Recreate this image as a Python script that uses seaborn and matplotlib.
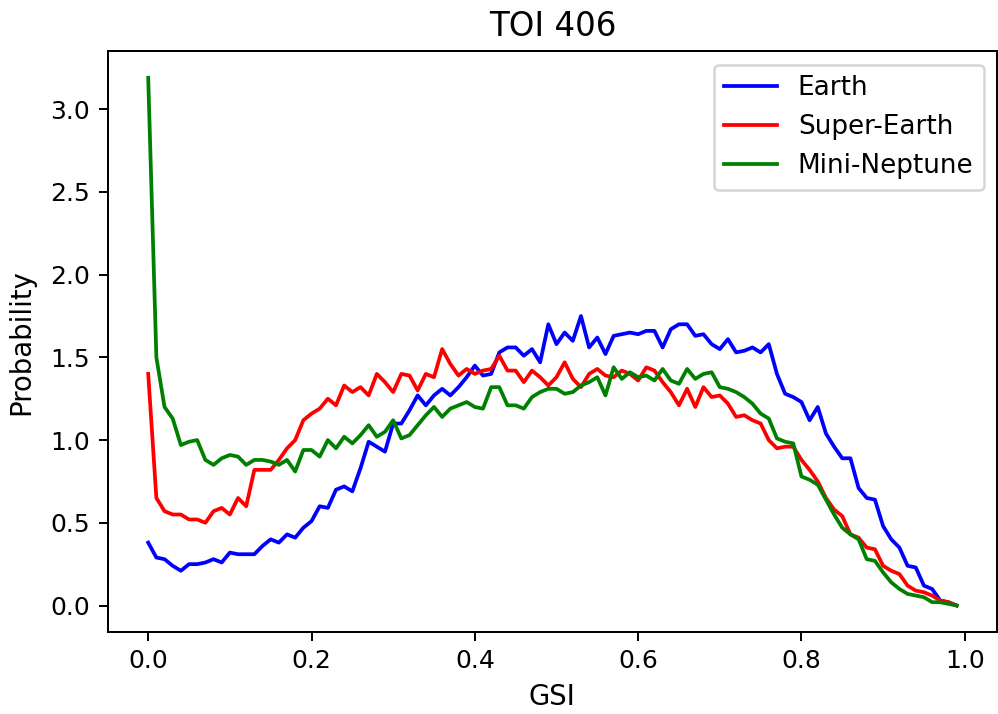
import numpy as np
import pandas as pd
import matplotlib
matplotlib.use("Agg")
import matplotlib.pyplot as plt
import seaborn as sns

gsi = [round(i * 0.01, 2) for i in range(100)]

earth = [0.38, 0.29, 0.28, 0.24, 0.21, 0.25, 0.25, 0.26, 0.28, 0.26,
         0.32, 0.31, 0.31, 0.31, 0.36, 0.40, 0.38, 0.43, 0.41, 0.47,
         0.51, 0.60, 0.59, 0.70, 0.72, 0.69, 0.83, 0.99, 0.96, 0.93,
         1.10, 1.10, 1.18, 1.27, 1.21, 1.27, 1.31, 1.27, 1.32, 1.38,
         1.45, 1.39, 1.40, 1.53, 1.56, 1.56, 1.51, 1.55, 1.47, 1.70,
         1.58, 1.65, 1.60, 1.75, 1.56, 1.62, 1.52, 1.63, 1.64, 1.65,
         1.64, 1.66, 1.66, 1.56, 1.67, 1.70, 1.70, 1.63, 1.64, 1.58,
         1.55, 1.61, 1.53, 1.54, 1.56, 1.53, 1.58, 1.40, 1.28, 1.26,
         1.23, 1.12, 1.20, 1.04, 0.96, 0.89, 0.89, 0.71, 0.65, 0.64,
         0.48, 0.40, 0.35, 0.24, 0.23, 0.12, 0.10, 0.03, 0.02, 0.00]

super_earth = [1.40, 0.65, 0.57, 0.55, 0.55, 0.52, 0.52, 0.50, 0.57, 0.59,
               0.55, 0.65, 0.60, 0.82, 0.82, 0.82, 0.88, 0.95, 1.00, 1.12,
               1.16, 1.19, 1.25, 1.21, 1.33, 1.29, 1.32, 1.27, 1.40, 1.35,
               1.29, 1.40, 1.39, 1.30, 1.40, 1.38, 1.55, 1.46, 1.39, 1.43,
               1.40, 1.42, 1.43, 1.51, 1.42, 1.42, 1.35, 1.42, 1.38, 1.33,
               1.38, 1.47, 1.37, 1.32, 1.40, 1.43, 1.39, 1.38, 1.42, 1.40,
               1.36, 1.44, 1.42, 1.35, 1.29, 1.21, 1.31, 1.20, 1.32, 1.26,
               1.27, 1.22, 1.14, 1.15, 1.12, 1.10, 1.00, 0.95, 0.96, 0.96,
               0.88, 0.82, 0.75, 0.65, 0.58, 0.54, 0.43, 0.41, 0.35, 0.34,
               0.24, 0.21, 0.19, 0.12, 0.09, 0.08, 0.06, 0.03, 0.02, 0.00]

mini_neptune = [3.19, 1.50, 1.20, 1.13, 0.97, 0.99, 1.00, 0.88, 0.85, 0.89,
                0.91, 0.90, 0.85, 0.88, 0.88, 0.87, 0.85, 0.88, 0.81, 0.94,
                0.94, 0.90, 1.00, 0.95, 1.02, 0.98, 1.03, 1.09, 1.02, 1.05,
                1.12, 1.01, 1.03, 1.09, 1.15, 1.20, 1.14, 1.19, 1.21, 1.23,
                1.20, 1.19, 1.32, 1.32, 1.21, 1.21, 1.19, 1.26, 1.29, 1.31,
                1.31, 1.28, 1.29, 1.33, 1.35, 1.38, 1.27, 1.44, 1.37, 1.41,
                1.38, 1.39, 1.36, 1.43, 1.36, 1.34, 1.43, 1.37, 1.40, 1.41,
                1.32, 1.31, 1.29, 1.26, 1.22, 1.16, 1.13, 1.01, 0.99, 0.98,
                0.78, 0.76, 0.73, 0.64, 0.55, 0.47, 0.43, 0.40, 0.28, 0.27,
                0.20, 0.14, 0.10, 0.07, 0.06, 0.05, 0.02, 0.02, 0.01, 0.00]

series_names = ["Earth", "Super-Earth", "Mini-Neptune"]
series_colors = ["blue", "red", "green"]

df = pd.DataFrame({
    "GSI": gsi * 3,
    "Probability": earth + super_earth + mini_neptune,
    "Type": [series_names[0]] * 100 + [series_names[1]] * 100 + [series_names[2]] * 100,
})

DPI = 180
fig, ax = plt.subplots(figsize=(998 / DPI, 714 / DPI), dpi=DPI)
sns.lineplot(data=df, x="GSI", y="Probability", hue="Type",
             palette=dict(zip(series_names, series_colors)),
             linewidth=1.5, ax=ax)
ax.set_title("TOI 406", fontsize=13)
ax.set_xlabel("GSI", fontsize=11, labelpad=4)
ax.set_ylabel("Probability", fontsize=11, labelpad=6)
ax.legend(loc="upper right", fontsize=10.5)
fig.subplots_adjust(left=0.108, right=0.999, top=0.928, bottom=0.115)
fig.savefig("out.png", dpi=DPI)
